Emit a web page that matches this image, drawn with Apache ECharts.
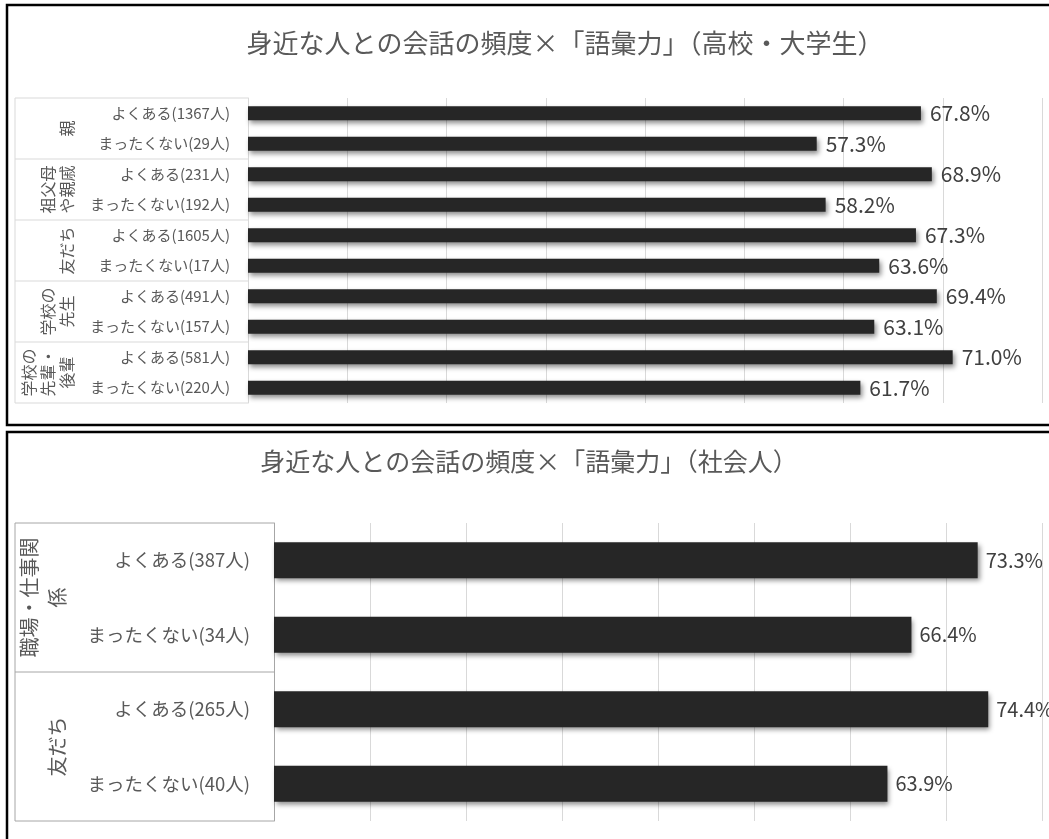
<!DOCTYPE html>
<html><head><meta charset="utf-8">
<script src="https://cdn.jsdelivr.net/npm/echarts@6/dist/echarts.min.js"></script>
<style>html,body{margin:0;padding:0;background:#fff;}#main{width:1049px;height:839px;}</style>
</head><body><div id="main"></div>
<script>
// ---- data ----
const topTitle = '身近な人との会話の頻度×「語彙力」（高校・大学生）';
const topCategories = ['よくある(1367人)','まったくない(29人)','よくある(231人)','まったくない(192人)','よくある(1605人)','まったくない(17人)','よくある(491人)','まったくない(157人)','よくある(581人)','まったくない(220人)'];
const topValues = [67.8, 57.3, 68.9, 58.2, 67.3, 63.6, 69.4, 63.1, 71.0, 61.7];
const topGroups = ['親', '祖父母\nや親戚', '友だち', '学校の\n先生', '学校の\n先輩・\n後輩'];
const topGroupSizes = [2, 2, 2, 2, 2];

const bottomTitle = '身近な人との会話の頻度×「語彙力」（社会人）';
const bottomCategories = ['よくある(387人)','まったくない(34人)','よくある(265人)','まったくない(40人)'];
const bottomValues = [73.3, 66.4, 74.4, 63.9];
const bottomGroups = ['職場・仕事関\n係', '友だち'];
const bottomGroupSizes = [2, 2];

const FONT = '"Noto Sans CJK JP", "Noto Sans", sans-serif';
const TXT = '#595959';

const chart = echarts.init(document.getElementById('main'), null, {renderer: 'canvas'});

const barShadow = {shadowColor: 'rgba(0,0,0,0.45)', shadowBlur: 5, shadowOffsetX: 2, shadowOffsetY: 3};

const option = {
  backgroundColor: '#fff',
  animation: false,
  textStyle: {fontFamily: FONT},
  title: [
    {text: topTitle, left: 560, top: 25, textAlign: 'center',
     textStyle: {fontFamily: FONT, fontSize: 26, fontWeight: 'normal', color: TXT}},
    {text: bottomTitle, left: 524, top: 444, textAlign: 'center',
     textStyle: {fontFamily: FONT, fontSize: 25, fontWeight: 'normal', color: TXT}}
  ],
  grid: [
    {left: 248, top: 98, width: 794, height: 305},
    {left: 274, top: 523, width: 768, height: 298}
  ],
  xAxis: [
    {gridIndex: 0, type: 'value', min: 0, max: 80, interval: 10,
     axisLabel: {show: false}, axisLine: {show: false}, axisTick: {show: false},
     splitLine: {lineStyle: {color: '#d9d9d9', width: 1}}},
    {gridIndex: 1, type: 'value', min: 0, max: 80, interval: 10,
     axisLabel: {show: false}, axisLine: {show: false}, axisTick: {show: false},
     splitLine: {lineStyle: {color: '#d9d9d9', width: 1}}}
  ],
  yAxis: [
    {gridIndex: 0, type: 'category', data: topCategories, inverse: true,
     axisLine: {show: true, lineStyle: {color: '#d9d9d9', width: 1}}, axisTick: {show: false},
     axisLabel: {fontFamily: FONT, fontSize: 15, color: TXT, margin: 18}},
    {gridIndex: 1, type: 'category', data: bottomCategories, inverse: true,
     axisLine: {show: true, lineStyle: {color: '#a6a6a6', width: 1}}, axisTick: {show: false},
     axisLabel: {fontFamily: FONT, fontSize: 18.5, color: TXT, margin: 24}}
  ],
  series: [
    {type: 'bar', xAxisIndex: 0, yAxisIndex: 0, data: topValues, barWidth: 14,
     itemStyle: Object.assign({color: '#262626'}, barShadow),
     label: {show: true, position: 'right', distance: 9, fontFamily: FONT, fontSize: 21, color: '#404040',
       formatter: p => p.value.toFixed(1) + '%'}},
    {type: 'bar', xAxisIndex: 1, yAxisIndex: 1, data: bottomValues, barWidth: 36,
     itemStyle: Object.assign({color: '#262626'}, barShadow),
     label: {show: true, position: 'right', distance: 8, fontFamily: FONT, fontSize: 20, color: '#404040',
       formatter: p => p.value.toFixed(1) + '%'}}
  ]
};
chart.setOption(option);

function groupBox(idx, cats, sizes, labels, boxLeft, lineColor, labelRight, fontSize, lineHeight) {
  const c0 = chart.convertToPixel({yAxisIndex: idx}, cats[0]);
  const c1 = chart.convertToPixel({yAxisIndex: idx}, cats[1]);
  const band = c1 - c0;
  const axisX = chart.convertToPixel({xAxisIndex: idx}, 0);
  const top = c0 - band / 2;
  const els = [];
  let y = top;
  els.push({type: 'line', shape: {x1: boxLeft, y1: y, x2: axisX, y2: y}, style: {stroke: lineColor, lineWidth: 1}, silent: true});
  sizes.forEach((n, i) => {
    const y0 = y, y1 = y + n * band;
    els.push({type: 'line', shape: {x1: boxLeft, y1: y1, x2: axisX, y2: y1}, style: {stroke: lineColor, lineWidth: 1}, silent: true});
    els.push({type: 'text', x: labelRight, y: (y0 + y1) / 2, rotation: Math.PI / 2,
      style: {text: labels[i], font: fontSize + 'px ' + FONT, fill: TXT, align: 'center', verticalAlign: 'bottom', lineHeight: lineHeight}, silent: true});
    y = y1;
  });
  els.push({type: 'line', shape: {x1: boxLeft, y1: top, x2: boxLeft, y2: y}, style: {stroke: lineColor, lineWidth: 1}, silent: true});
  return els;
}

const graphics = [
  {type: 'rect', shape: {x: 7, y: 5, width: 1100, height: 420}, style: {fill: 'none', stroke: '#000', lineWidth: 2.5}, silent: true},
  {type: 'rect', shape: {x: 7, y: 432, width: 1100, height: 500}, style: {fill: 'none', stroke: '#000', lineWidth: 2.5}, silent: true}
].concat(
  groupBox(0, topCategories, topGroupSizes, topGroups, 15, '#d9d9d9', 76, 16, 19),
  groupBox(1, bottomCategories, bottomGroupSizes, bottomGroups, 15, '#a6a6a6', 71, 20, 28)
);
chart.setOption({graphic: graphics});
</script>
</body></html>
